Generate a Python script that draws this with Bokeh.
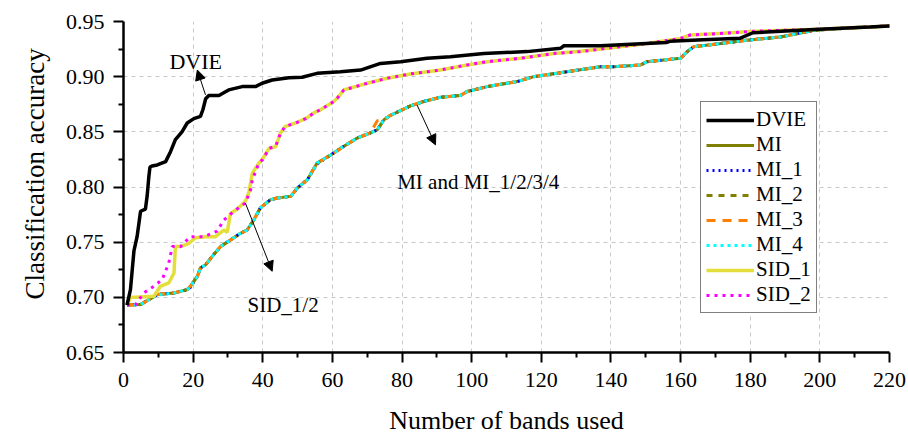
from bokeh.plotting import figure
from bokeh.models import (Range1d, FixedTicker, PrintfTickFormatter, Legend, LegendItem,
                          Arrow, NormalHead, Label, Title)
from bokeh.embed import file_html
from bokeh.resources import INLINE

# ---------------- data ----------------
DVIE_X = [1, 2, 3, 3.9, 4.9, 6.3, 6.8, 7.3, 7.6, 8.2, 9.7, 12.1, 13.5, 14.9, 16.8, 18.3, 20.2,
          22.1, 22.8, 23.6, 24.5, 27.4, 30.2, 34.1, 37.9, 39.8, 42.7, 47.5, 51.3, 55.6, 62.3,
          68.1, 73.8, 79.6, 87.2, 93.9, 103.5, 115.9, 125.5, 126.5, 137, 155.9, 156.9, 166.5,
          177, 180.8, 187.5, 199.9, 214.3, 220]
DVIE_Y = [0.693, 0.707, 0.742, 0.755, 0.778, 0.780, 0.792, 0.810, 0.818, 0.819, 0.820, 0.823,
          0.832, 0.843, 0.850, 0.858, 0.862, 0.864, 0.870, 0.880, 0.883, 0.883, 0.888, 0.891,
          0.891, 0.894, 0.897, 0.899, 0.8995, 0.903, 0.9045, 0.906, 0.912, 0.9136, 0.9167,
          0.918, 0.921, 0.9227, 0.9257, 0.928, 0.928, 0.931, 0.932, 0.9335, 0.9348, 0.9398,
          0.941, 0.943, 0.945, 0.946]

MI_X = [1, 4.9, 9.7, 14.5, 18.3, 19.2, 21.2, 22.1, 23.6, 25.9, 27.9, 30.7, 33.6, 35.5, 37.4,
        39.3, 42.2, 44.1, 48.0, 49.9, 52.8, 55.6, 59.5, 63.3, 67.1, 70.9, 72.9, 74.8, 76.7,
        82.4, 86.2, 91.0, 96.8, 98.7, 104.5, 113.0, 117.8, 127.4, 137.0, 140.8, 148.5, 150.4,
        160.0, 161.9, 163.8, 171.5, 179.1, 188.7, 198.3, 207.9, 220]
MI_Y = [0.693, 0.6934, 0.7025, 0.704, 0.707, 0.710, 0.719, 0.7266, 0.7296, 0.7387, 0.746,
        0.752, 0.758, 0.761, 0.770, 0.781, 0.7885, 0.790, 0.7915, 0.799, 0.8066, 0.8217,
        0.829, 0.837, 0.8443, 0.849, 0.8518, 0.861, 0.865, 0.8735, 0.8775, 0.8813, 0.883,
        0.8865, 0.891, 0.8955, 0.900, 0.9045, 0.909, 0.909, 0.9106, 0.9136, 0.9167, 0.9227,
        0.9272, 0.930, 0.933, 0.936, 0.942, 0.944, 0.946]
MI1_Y = [0.693, 0.6936, 0.7025, 0.704, 0.707, 0.709, 0.719, 0.7266, 0.7296, 0.7387, 0.746,
         0.752, 0.758, 0.761, 0.770, 0.781, 0.7885, 0.790, 0.7915, 0.799, 0.8066, 0.8210,
         0.829, 0.837, 0.8443, 0.849, 0.8518, 0.861, 0.865, 0.8735, 0.8775, 0.8813, 0.883,
         0.8865, 0.891, 0.8955, 0.900, 0.9045, 0.909, 0.909, 0.9106, 0.9136, 0.9167, 0.9227,
         0.9272, 0.930, 0.933, 0.936, 0.942, 0.944, 0.946]
MI2_Y = [0.693, 0.6934, 0.7025, 0.704, 0.707, 0.710, 0.719, 0.7266, 0.7296, 0.7387, 0.746,
         0.752, 0.758, 0.761, 0.770, 0.781, 0.7885, 0.790, 0.7915, 0.799, 0.8066, 0.8217,
         0.829, 0.837, 0.8443, 0.849, 0.8518, 0.861, 0.865, 0.8735, 0.8775, 0.8813, 0.883,
         0.8865, 0.891, 0.8955, 0.900, 0.9045, 0.909, 0.909, 0.9106, 0.9136, 0.9167, 0.9227,
         0.9272, 0.930, 0.933, 0.936, 0.942, 0.944, 0.946]
MI3_Y = [0.693, 0.6934, 0.7025, 0.704, 0.707, 0.710, 0.719, 0.7266, 0.7296, 0.7387, 0.746,
         0.752, 0.758, 0.761, 0.770, 0.781, 0.7885, 0.790, 0.7915, 0.799, 0.8066, 0.8217,
         0.829, 0.837, 0.8443, 0.849, 0.8600, 0.861, 0.865, 0.8735, 0.8775, 0.8813, 0.883,
         0.8865, 0.891, 0.8955, 0.900, 0.9045, 0.909, 0.909, 0.9106, 0.9136, 0.9167, 0.9227,
         0.9272, 0.930, 0.933, 0.936, 0.942, 0.944, 0.946]
MI4_Y = [0.693, 0.6934, 0.7020, 0.704, 0.707, 0.710, 0.719, 0.7266, 0.7296, 0.7387, 0.746,
         0.752, 0.758, 0.761, 0.770, 0.781, 0.7885, 0.790, 0.7915, 0.799, 0.8066, 0.8217,
         0.829, 0.837, 0.8443, 0.849, 0.8518, 0.861, 0.865, 0.8735, 0.8775, 0.8813, 0.883,
         0.8865, 0.891, 0.8955, 0.900, 0.9045, 0.909, 0.909, 0.9106, 0.9136, 0.9167, 0.9227,
         0.9272, 0.930, 0.933, 0.936, 0.942, 0.944, 0.946]

SID1_X = [1, 2, 3.5, 8.7, 10.6, 13.0, 14.5, 14.9, 16.4, 18.8, 20.7, 23.6, 26.4, 28.8, 29.8,
          30.7, 32.7, 35.0, 36.0, 37.0, 38.9, 39.8, 41.8, 43.7, 45.1, 46.5, 49.4, 52.3, 55.1,
          56.6, 60.4, 61.4, 63.3, 70, 75.7, 82.4, 91, 98.7, 104.5, 114, 123.6, 131.3, 140.8,
          150.4, 160, 162.8, 172.4, 180, 199.9, 220]
SID1_Y = [0.693, 0.700, 0.700, 0.701, 0.710, 0.713, 0.722, 0.746, 0.746, 0.749, 0.754, 0.755,
          0.755, 0.761, 0.759, 0.776, 0.780, 0.787, 0.795, 0.8126, 0.8217, 0.8247, 0.835,
          0.8365, 0.849, 0.855, 0.858, 0.862, 0.868, 0.870, 0.8775, 0.8806, 0.888, 0.894,
          0.8986, 0.9025, 0.906, 0.9106, 0.9136, 0.9167, 0.921, 0.923, 0.9265, 0.930, 0.9347,
          0.9378, 0.9393, 0.941, 0.943, 0.946]

SID2_X = [1, 3.4, 5.8, 8.7, 11.1, 13, 14, 16.4, 19.2, 23.1, 26.9, 28.8, 31.7, 35, 36.5, 37,
          38.9, 40, 41.8, 43.7, 45.1, 46.5, 49.4, 52.3, 55.1, 56.6, 60.4, 61.4, 63.3, 70, 75.7,
          82.4, 91, 98.7, 104.5, 114, 123.6, 131.3, 140.8, 150.4, 160, 162.8, 172.4, 180,
          199.9, 220]
SID2_Y = [0.693, 0.693, 0.704, 0.710, 0.716, 0.731, 0.746, 0.746, 0.755, 0.755, 0.760, 0.770,
          0.778, 0.7855, 0.7975, 0.8066, 0.8217, 0.825, 0.835, 0.837, 0.849, 0.855, 0.858,
          0.862, 0.868, 0.870, 0.8775, 0.8806, 0.888, 0.894, 0.8986, 0.9025, 0.906, 0.9106,
          0.9136, 0.9167, 0.921, 0.9227, 0.9265, 0.930, 0.9347, 0.9378, 0.9393, 0.941, 0.943,
          0.946]

X_TICKS = [0, 20, 40, 60, 80, 100, 120, 140, 160, 180, 200, 220]
X_MINOR = [10, 30, 50, 70, 90, 110, 130, 150, 170, 190, 210]
Y_TICKS = [0.65, 0.70, 0.75, 0.80, 0.85, 0.90, 0.95]
Y_MINOR = [0.675, 0.725, 0.775, 0.825, 0.875, 0.925]

X_TITLE = "Number of bands used"
Y_TITLE = "Classification accuracy"

# annotations: (text, text_x, text_baseline_y, arrow tail x, tail y, head x, head y)
ANNOTATIONS = [
    ("DVIE", 13.2, 0.9133, 23.55, 0.8835, 21.2, 0.906),
    ("SID_1/2", 35.6, 0.6934, 35.0, 0.7855, 42.7, 0.7236),
    ("MI and MI_1/2/3/4", 78.6, 0.8048, 84.3, 0.8744, 89.6, 0.8382),
]

FONT = "Liberation Serif"

p = figure(width=906, height=437, output_backend="svg", toolbar_location=None,
           x_range=Range1d(0, 220), y_range=Range1d(0.65, 0.95),
           min_border_left=123, min_border_right=17, min_border_top=21, min_border_bottom=84)
p.outline_line_color = None
p.background_fill_color = "white"

# axes
p.xaxis.ticker = FixedTicker(ticks=X_TICKS, minor_ticks=X_MINOR)
p.yaxis.ticker = FixedTicker(ticks=Y_TICKS, minor_ticks=Y_MINOR)
p.yaxis.formatter = PrintfTickFormatter(format="%.2f")
for ax in (p.xaxis, p.yaxis):
    ax.axis_line_width = 2.5
    ax.axis_line_color = "black"
    ax.major_tick_line_width = 2
    ax.major_tick_line_color = "black"
    ax.minor_tick_line_width = 2
    ax.minor_tick_line_color = "black"
    ax.major_tick_in = 0
    ax.major_tick_out = 10
    ax.minor_tick_in = 0
    ax.minor_tick_out = 5
    ax.major_label_text_font = FONT
    ax.major_label_text_font_size = "22px"
    ax.major_label_text_color = "black"
p.xaxis.major_label_standoff = 10
p.yaxis.major_label_standoff = 9
p.xaxis.axis_label = X_TITLE
p.xaxis.axis_label_text_font = FONT
p.xaxis.axis_label_text_font_size = "26px"
p.xaxis.axis_label_text_font_style = "normal"
p.xaxis.axis_label_text_color = "black"
p.xaxis.axis_label_standoff = 16

# y-axis title as a side title, anchored from the frame bottom like the reference
p.add_layout(Title(text=Y_TITLE, align="left", offset=53, standoff=26,
                   text_font=FONT, text_font_size="27px", text_font_style="normal",
                   text_color="black"), "left")

for g in (p.xgrid, p.ygrid):
    g.grid_line_color = "#c8c8c8"
    g.grid_line_dash = "4 4"
    g.grid_line_width = 1
p.xgrid.ticker = FixedTicker(ticks=X_TICKS)
p.ygrid.ticker = FixedTicker(ticks=Y_TICKS)

# series
r_mi = p.line(MI_X, MI_Y, line_color="#808000", line_width=3)
r_mi1 = p.line(MI_X, MI1_Y, line_color="#0000ff", line_width=3, line_dash="2 4")
r_mi2 = p.line(MI_X, MI2_Y, line_color="#808000", line_width=3, line_dash="6 6")
r_mi3 = p.line(MI_X, MI3_Y, line_color="#ff8000", line_width=3, line_dash="9 7")
r_mi4 = p.line(MI_X, MI4_Y, line_color="#00ffff", line_width=3, line_dash="3 4")
r_sid1 = p.line(SID1_X, SID1_Y, line_color="#e3de3a", line_width=3.5)
r_sid2 = p.line(SID2_X, SID2_Y, line_color="#ff00ff", line_width=3, line_dash="3 5")
r_dvie = p.line(DVIE_X, DVIE_Y, line_color="black", line_width=3.5)

legend = Legend(items=[
    LegendItem(label="DVIE", renderers=[r_dvie]),
    LegendItem(label="MI", renderers=[r_mi]),
    LegendItem(label="MI_1", renderers=[r_mi1]),
    LegendItem(label="MI_2", renderers=[r_mi2]),
    LegendItem(label="MI_3", renderers=[r_mi3]),
    LegendItem(label="MI_4", renderers=[r_mi4]),
    LegendItem(label="SID_1", renderers=[r_sid1]),
    LegendItem(label="SID_2", renderers=[r_sid2]),
], location=(577, 39))
legend.label_text_font = FONT
legend.label_text_font_size = "21px"
legend.label_text_color = "black"
legend.glyph_width = 48
legend.glyph_height = 20
legend.label_height = 20
legend.spacing = 0
legend.padding = 5
legend.margin = 0
legend.label_standoff = 2
legend.border_line_color = "black"
legend.border_line_width = 1
legend.background_fill_alpha = 1
p.add_layout(legend, "center")

for text, tx, ty, x0, y0, x1, y1 in ANNOTATIONS:
    p.add_layout(Arrow(end=NormalHead(size=10, fill_color="black", line_color="black"),
                       x_start=x0, y_start=y0, x_end=x1, y_end=y1,
                       line_color="black", line_width=1))
    p.add_layout(Label(x=tx, y=ty, text=text, text_font=FONT,
                       text_font_size="22px" if text == "DVIE" else "21px",
                       text_baseline="alphabetic", text_color="black"))

open("out.html", "w").write(file_html(p, INLINE))
